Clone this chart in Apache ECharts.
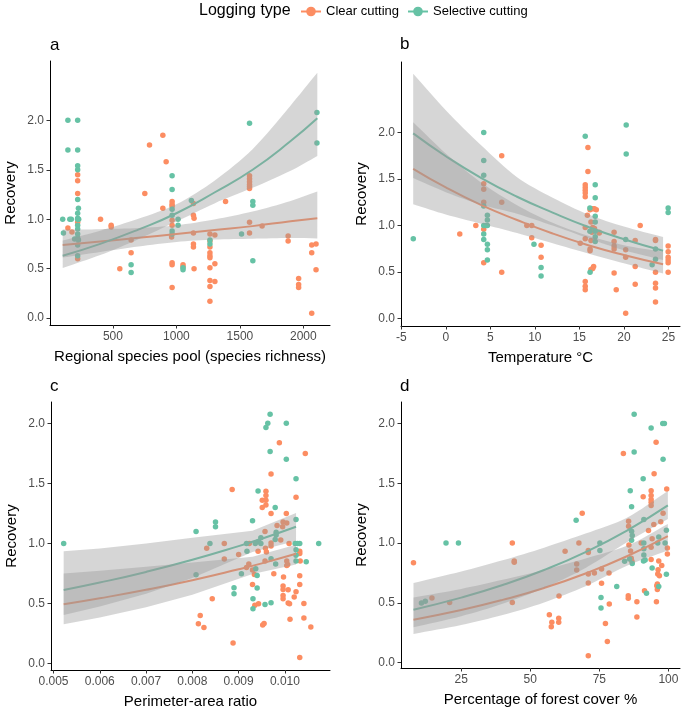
<!DOCTYPE html>
<html>
<head>
<meta charset="utf-8">
<script src="https://cdn.jsdelivr.net/npm/echarts@6/dist/echarts.min.js"></script>
<style>html,body{margin:0;padding:0;background:#fff}#c{width:685px;height:710px}</style>
</head>
<body>
<div id="c"></div>
<script>
// ---------- DATA ----------
const seriesNames = ['Clear cutting', 'Selective cutting'];
const panelLetters = ['a', 'b', 'c', 'd'];
const xTitles = ['Regional species pool (species richness)', 'Temperature °C', 'Perimeter-area ratio', 'Percentage of forest cover %'];
const yTitle = 'Recovery';
const yTicks = [0, 0.5, 1, 1.5, 2];
const xTicksA = [500, 1000, 1500, 2000];
const xTicksB = [-5, 0, 5, 10, 15, 20, 25];
const xTicksC = [0.005, 0.006, 0.007, 0.008, 0.009, 0.010];
const xTicksD = [25, 50, 75, 100];

// Panel a: regional species pool
const poolClear = [[145,0.91],[177,0.87],[222,1.45],[222,1.39],[222,1.26],[222,0.97],[222,0.60],
 [402,1.00],[486,0.94],[486,0.92],[554,0.50],[643,0.79],[643,0.66],[751,1.26],[788,1.75],[893,1.85],[919,1.58],[893,1.11],
 [966,1.18],[966,1.15],[966,1.13],[966,0.99],[966,0.94],[962,0.82],[966,0.56],[966,0.54],[966,0.31],
 [1052,0.54],[1052,0.52],[1134,1.16],[1134,1.04],[1139,1.01],[1134,0.86],[1134,0.75],[1134,0.72],[1139,0.50],
 [1264,0.85],[1264,0.78],[1264,0.72],[1264,0.66],[1264,0.63],[1264,0.61],[1264,0.51],[1264,0.38],[1264,0.32],[1264,0.17],
 [1303,0.84],[1303,0.55],[1303,0.37],[1387,1.18],
 [1576,1.44],[1576,1.41],[1576,1.38],[1576,1.35],[1576,1.33],[1576,1.31],[1576,0.97],[1576,0.86],
 [1675,0.93],[1880,0.83],[1880,0.78],[1963,0.40],[1963,0.34],[1963,0.31],[2066,0.74],[2066,0.66],[2066,0.05],[2100,0.75],[2100,0.49]];
const poolSel = [[104,1.00],[110,0.86],[145,2.00],[145,1.70],[160,1.00],[172,1.00],[198,0.80],
 [222,2.00],[222,1.70],[222,1.54],[222,1.50],[222,1.20],[228,1.11],[222,1.06],[222,1.01],[222,1.00],[230,1.00],[222,0.94],[222,0.90],[222,0.85],[222,0.81],[228,0.79],[222,0.74],[222,0.63],
 [643,0.54],[643,0.46],[966,1.44],[966,1.30],[966,1.10],[966,1.04],[966,0.88],[966,0.85],
 [1013,1.00],[1013,0.94],[1052,0.51],[1052,0.49],[1118,1.19],[1264,0.79],[1264,0.75],[1513,0.85],[1576,1.97],
 [1602,1.18],[1602,1.14],[1602,0.58],[2107,2.08],[2107,1.77]];
const poolClearFit = [[104,0.74],[400,0.775],[700,0.812],[1000,0.85],[1300,0.89],[1600,0.93],[1900,0.98],[2110,1.01]];
const poolSelFit = [[104,0.63],[400,0.75],[700,0.895],[1000,1.06],[1300,1.27],[1600,1.50],[1900,1.79],[2110,2.02]];
const poolClearBand = [[104,0.612,0.895],[400,0.669,0.898],[700,0.724,0.91],[1000,0.769,0.939],[1300,0.794,0.997],[1600,0.803,1.077],[1900,0.81,1.185],[2110,0.805,1.28]];
const poolSelBand = [[104,0.506,0.785],[400,0.637,0.884],[700,0.798,1.004],[1000,0.976,1.152],[1300,1.16,1.39],[1600,1.317,1.708],[1900,1.49,2.15],[2110,1.64,2.48]];

// Panel b: temperature
const tempClear = [[1.57,0.91],[3.37,1.00],[4.26,1.45],[4.26,1.39],[4.26,1.25],[4.26,0.96],[4.26,0.60],[6.28,1.75],[6.28,1.25],[6.28,0.50],
 [9.1,1.00],[9.65,1.00],[9.65,0.87],[10.7,0.79],[10.7,0.66],[15.1,0.81],[15.96,1.84],[15.96,1.58],
 [15.66,1.44],[15.66,1.41],[15.66,1.38],[15.66,1.35],[15.66,1.31],[15.9,1.11],[15.66,0.98],[15.66,0.86],[15.66,0.40],[15.66,0.35],[15.66,0.31],
 [16.2,1.17],[16.5,1.18],[16.7,1.18],[16.9,1.17],[16.3,1.04],[16.5,0.98],[16.4,0.93],[16.2,0.75],[16.2,0.73],[16.3,0.84],[16.6,0.56],[16.5,0.54],[16.3,0.53],[16.7,0.97],[17.23,0.93],[17.23,0.92],
 [18.9,0.93],[18.9,0.83],[18.9,0.78],[18.9,0.75],[18.9,0.49],[19.14,0.31],[20.2,0.74],[20.2,0.66],[20.2,0.06],
 [21.27,0.84],[21.27,0.56],[21.27,0.37],[21.83,1.00],[23.55,0.85],[23.55,0.84],[23.55,0.50],[23.55,0.38],[23.55,0.33],[23.55,0.18],
 [24.97,0.78],[24.97,0.72],[24.97,0.66],[24.97,0.63],[24.97,0.60],[24.97,0.50]];
const tempSel = [[-3.65,0.86],[4.26,2.00],[4.26,1.70],[4.26,1.54],[4.26,1.21],[4.26,1.00],[4.5,1.00],[4.67,1.00],[4.26,0.91],[4.26,0.85],
 [4.67,1.11],[4.67,1.06],[4.67,0.80],[4.67,0.74],[4.67,0.63],[9.9,0.80],[10.7,0.55],[10.7,0.46],[15.66,1.96],[16.18,1.19],
 [16.78,1.44],[16.78,1.30],[16.78,1.10],[16.78,1.04],[16.18,0.94],[16.78,0.94],[16.78,0.88],[16.78,0.83],[16.2,0.50],
 [20.26,2.08],[20.26,1.77],[20.2,0.85],[23.17,0.58],[23.55,0.75],[23.55,0.64],[24.97,1.19],[24.97,1.14]];
const tempClearFit = [[-3.66,1.61],[0,1.41],[4,1.22],[8,1.06],[12,0.915],[16,0.79],[20,0.685],[24.4,0.585]];
const tempSelFit = [[-3.66,1.99],[0,1.745],[4,1.51],[8,1.31],[12,1.14],[16,0.985],[20,0.854],[24.4,0.73]];
const tempClearBand = [[-3.66,1.23,2.11],[0,1.12,1.775],[4,1.02,1.46],[8,0.92,1.22],[12,0.81,1.03],[16,0.70,0.89],[20,0.595,0.79],[24.4,0.485,0.72]];
const tempSelBand = [[-3.66,1.51,2.63],[0,1.359,2.24],[4,1.224,1.86],[8,1.128,1.52],[12,1.001,1.30],[16,0.865,1.12],[20,0.735,0.99],[24.4,0.63,0.877]];

// Panel c: perimeter-area ratio
const paClear = [[0.00817,0.40],[0.00813,0.33],[0.00825,0.30],[0.00831,0.96],[0.00843,0.54],[0.00869,1.00],[0.00869,0.87],[0.00886,1.45],[0.00888,0.17],
 [0.00988,1.84],[0.01044,1.75],[0.0097,1.58],[0.00959,1.435],[0.00959,1.40],[0.00959,1.36],[0.00959,1.32],[0.00951,1.36],[0.00951,1.30],[0.01024,1.385],
 [0.0097,1.25],[0.01003,1.25],[0.00996,1.18],[0.01004,1.17],[0.00983,1.15],[0.00995,1.14],[0.00957,1.10],[0.00991,1.03],[0.00923,1.00],[0.0097,1.005],[0.0097,0.98],
 [0.01009,1.00],[0.00958,0.96],[0.00942,0.936],[0.0096,0.93],[0.01032,0.936],[0.01032,0.916],[0.00957,0.853],[0.01004,0.853],[0.01006,0.825],[0.01033,0.853],
 [0.0090,0.908],[0.00922,0.83],[0.00917,0.80],[0.01004,0.817],[0.00934,0.742],[0.0093,0.778],[0.00976,0.747],[0.00997,0.72],[0.01032,0.73],[0.0093,0.659],
 [0.00996,0.645],[0.00996,0.617],[0.01007,0.614],[0.01032,0.659],[0.00996,0.567],[0.00996,0.54],[0.01024,0.598],[0.0102,0.553],[0.01007,0.503],[0.0101,0.498],
 [0.01041,0.50],[0.00943,0.498],[0.00935,0.484],[0.01011,0.368],[0.01041,0.379],[0.01056,0.304],[0.00955,0.332],[0.00952,0.32],[0.01032,0.049]];
const paSel = [[0.00522,1.00],[0.00808,1.10],[0.00808,0.74],[0.00838,1.00],[0.0085,1.18],[0.0085,1.14],[0.0089,0.63],[0.0089,0.58],
 [0.00968,2.077],[0.00963,2.003],[0.00959,1.967],[0.01003,2.003],[0.00968,1.767],[0.01003,1.703],[0.01024,1.54],[0.00942,1.437],[0.00979,1.30],[0.0093,1.19],[0.01024,1.20],
 [0.00981,1.094],[0.00981,1.07],[0.00948,1.047],[0.00943,1.016],[0.00979,1.033],[0.00917,1.00],[0.00918,0.936],[0.00936,1.00],[0.00948,1.00],[0.01022,1.00],[0.01027,1.00],[0.01032,1.00],
 [0.01073,1.00],[0.01024,0.947],[0.01024,0.902],[0.0097,0.872],[0.01024,0.853],[0.01046,0.847],[0.0098,0.83],[0.00937,0.789],[0.00906,0.747],[0.0094,0.733],[0.0094,0.628],
 [0.00931,0.54],[0.00931,0.456],[0.00957,0.492],[0.0097,0.506]];
const paClearFit = [[0.00522,0.493],[0.006,0.543],[0.007,0.614],[0.008,0.694],[0.009,0.785],[0.0095,0.834],[0.01024,0.914]];
const paSelFit = [[0.00522,0.612],[0.006,0.674],[0.007,0.763],[0.008,0.864],[0.009,0.978],[0.0095,1.04],[0.01024,1.14]];
const paClearBand = [[0.00522,0.327,0.75],[0.006,0.382,0.772],[0.007,0.468,0.806],[0.008,0.573,0.841],[0.0093,0.745,0.889],[0.01024,0.825,0.99]];
const paSelBand = [[0.00522,0.404,0.936],[0.006,0.474,0.958],[0.007,0.581,1.0],[0.008,0.713,1.047],[0.0093,0.93,1.107],[0.01024,1.02,1.254]];

// Panel d: forest cover
const coverClear = [[7.72,0.834],[14.4,0.54],[20.8,0.503],[43.5,1.0],[44.2,0.85],[44.2,0.84],[43.5,0.503],[56.9,0.40],[57.8,0.336],[57.6,0.30],
 [60.3,0.37],[60.3,0.336],[60.4,0.557],[62.6,0.93],[66.8,0.825],[66.8,0.775],[67.6,1.0],[68.8,1.25],[71.0,0.937],[71.0,0.92],[71.0,0.74],[71.0,0.666],[71.0,0.056],
 [73.2,0.75],[75.8,0.783],[75.8,0.663],[77.2,0.327],[78.5,0.75],[78.6,0.49],[77.9,0.176],
 [95.55,1.843],[83.7,1.748],[94.83,1.58],[99.39,1.451],[93.75,1.437],[93.75,1.398],[93.75,1.364],[93.75,1.342],[93.75,1.314],[90.87,1.387],[98.07,1.25],
 [85.59,1.183],[85.59,1.141],[97.23,1.177],[94.71,1.155],[92.79,1.105],[94.11,1.035],[90.15,1.0],[93.75,0.965],[99.63,0.959],[99.63,0.909],[85.71,0.984],[86.31,0.934],
 [86.55,0.872],[86.79,0.847],[93.75,0.861],[96.51,0.85],[97.59,0.811],[96.27,0.777],[96.15,0.741],[96.75,0.727],[96.0,0.657],[95.8,0.643],[96.0,0.61],[95.67,0.509],
 [91.35,0.601],[85.47,0.559],[85.47,0.537],[88.59,0.509],[88.59,0.38]];
const coverSel = [[10.6,0.498],[12.0,0.512],[19.5,1.0],[24.0,1.0],[66.6,1.19],[75.2,1.0],[75.2,0.937],[75.6,0.545],[75.6,0.456],[81.3,0.635],
 [87.6,2.078],[97.95,2.0],[98.55,2.0],[93.75,1.963],[87.6,1.762],[98.07,1.70],[90.87,1.538],[86.19,1.437],[86.67,1.303],[91.11,1.197],[86.67,1.099],
 [99.27,1.107],[96.51,1.051],[91.11,1.0],[91.11,0.951],[91.11,0.90],[86.91,1.063],[86.67,1.024],[98.79,1.0],[96.15,1.0],[84.15,0.847],[85.95,0.867],
 [86.91,0.828],[90.99,0.85],[91.59,0.858],[94.11,0.791],[96.5,0.635],[99.27,0.738],[92.07,0.579]];
const coverClearFit = [[7.72,0.358],[25,0.439],[40,0.524],[55,0.624],[70,0.745],[85,0.889],[99.8,1.057]];
const coverSelFit = [[7.72,0.442],[25,0.543],[40,0.648],[55,0.774],[70,0.924],[85,1.104],[99.8,1.315]];
const coverClearBand = [[7.72,0.238,0.545],[25,0.313,0.616],[40,0.397,0.692],[55,0.503,0.775],[70,0.638,0.87],[85,0.81,0.976],[99.8,0.937,1.16]];
const coverSelBand = [[7.72,0.294,0.666],[25,0.387,0.762],[40,0.491,0.856],[55,0.623,0.961],[70,0.791,1.079],[85,1.006,1.212],[99.8,1.20,1.435]];

// ---------- CHART ----------
const FONT = '"Liberation Sans", Arial, sans-serif';
const ORANGE = '#FC8D62', GREEN = '#66C2A5';

const grids = [
  {left: 50, top: 61, width: 280, height: 264},
  {left: 401, top: 62, width: 279, height: 264},
  {left: 51, top: 402, width: 279, height: 270},
  {left: 401, top: 402, width: 279, height: 266}
];
const xRanges = [[4, 2210], [-5.03, 26.3], [0.004946, 0.010974], [3.2, 104.2]];
const yRanges = [[-0.07, 2.60], [-0.078, 2.757], [-0.055, 2.18], [-0.046, 2.18]];
const xTickSets = [xTicksA, xTicksB, xTicksC, xTicksD];
const xFormat = [v => String(Math.round(v)), v => String(Math.round(v)), v => v.toFixed(3), v => String(Math.round(v))];

function axisCommon() {
  return {
    axisLine: {show: true, onZero: false, lineStyle: {color: '#000', width: 1}},
    splitLine: {show: false}
  };
}

const xAxes = grids.map((g, i) => Object.assign(axisCommon(), {
  type: 'value', gridIndex: i, min: xRanges[i][0], max: xRanges[i][1],
  name: xTitles[i], nameLocation: 'middle', nameGap: 24,
  nameTextStyle: {fontSize: 15, color: '#000', fontFamily: FONT},
  axisTick: {show: true, customValues: xTickSets[i], length: 3.5, lineStyle: {color: '#333'}},
  axisLabel: {customValues: xTickSets[i], formatter: xFormat[i], fontSize: 12, color: '#4d4d4d', fontFamily: FONT, margin: 6}
}));
const yAxes = grids.map((g, i) => Object.assign(axisCommon(), {
  type: 'value', gridIndex: i, min: yRanges[i][0], max: yRanges[i][1],
  name: yTitle, nameLocation: 'middle', nameGap: 32, nameRotate: 90,
  nameTextStyle: {fontSize: 15, color: '#000', fontFamily: FONT},
  axisTick: {show: true, customValues: yTicks, length: 3.5, lineStyle: {color: '#333'}},
  axisLabel: {customValues: yTicks, formatter: v => v.toFixed(1), fontSize: 12, color: '#4d4d4d', fontFamily: FONT, margin: 6}
}));

function scatter(i, pts, color) {
  return {type: 'scatter', name: 'pts', xAxisIndex: i, yAxisIndex: i, data: pts, symbolSize: 5.5,
    itemStyle: {color: color, opacity: 1}, z: 1, silent: true, animation: false};
}
function fit(i, pts, color, name) {
  return {type: 'line', name: name, xAxisIndex: i, yAxisIndex: i, data: pts, smooth: true,
    showSymbol: false, symbol: 'circle', symbolSize: 6, lineStyle: {color: color, width: 2}, itemStyle: {color: color},
    z: 2, silent: true, animation: false};
}
// confidence ribbon: polygon along the upper edge then back along the lower edge;
// end points are repeated so the smoothing keeps the band ends straight
function band(i, rows, smooth) {
  return {
    type: 'custom', coordinateSystem: 'cartesian2d', xAxisIndex: i, yAxisIndex: i,
    data: [[rows[0][0], rows[0][1]]], z: 3, silent: true, animation: false,
    renderItem: function (params, api) {
      const upper = rows.map(r => api.coord([r[0], r[2]]));
      const lower = rows.slice().reverse().map(r => api.coord([r[0], r[1]]));
      const pts = [upper[0]].concat(upper, [upper[upper.length - 1]], [lower[0]], lower, [lower[lower.length - 1]]);
      return {
        type: 'polygon',
        shape: {points: pts, smooth: smooth},
        style: {fill: 'rgba(153,153,153,0.4)', stroke: null}
      };
    }
  };
}

const panels = [
  [poolClear, poolSel, poolClearFit, poolSelFit, poolClearBand, poolSelBand, 0.3],
  [tempClear, tempSel, tempClearFit, tempSelFit, tempClearBand, tempSelBand, 0.3],
  [paClear, paSel, paClearFit, paSelFit, paClearBand, paSelBand, 0],
  [coverClear, coverSel, coverClearFit, coverSelFit, coverClearBand, coverSelBand, 0.3]
];

let series = [];
panels.forEach((p, i) => {
  series.push(fit(i, p[2], ORANGE, seriesNames[0]));
  series.push(fit(i, p[3], GREEN, seriesNames[1]));
  series.push(scatter(i, p[0], ORANGE));
  series.push(scatter(i, p[1], GREEN));
  series.push(band(i, p[4], p[6]));
  series.push(band(i, p[5], p[6]));
});

const letterPos = [[50, 37], [400, 36], [50, 378], [400, 378]];
const titles = [{text: 'Logging type', left: 199, top: 3, padding: 0,
  textStyle: {fontSize: 16, fontWeight: 'normal', color: '#000', fontFamily: FONT}}]
  .concat(panelLetters.map((l, i) => ({text: l, left: letterPos[i][0], top: letterPos[i][1], padding: 0,
    textStyle: {fontSize: 17, fontWeight: 'normal', color: '#000', fontFamily: FONT}})));

const chart = echarts.init(document.getElementById('c'), null, {renderer: 'canvas'});
chart.setOption({
  animation: false,
  backgroundColor: '#fff',
  title: titles,
  legend: {data: seriesNames, left: 300, top: 5, padding: 0, itemWidth: 20, itemHeight: 12, itemGap: 8,
    selectedMode: false, textStyle: {fontSize: 13, color: '#000', fontFamily: FONT}},
  grid: grids,
  xAxis: xAxes,
  yAxis: yAxes,
  series: series
});
</script>
</body>
</html>
